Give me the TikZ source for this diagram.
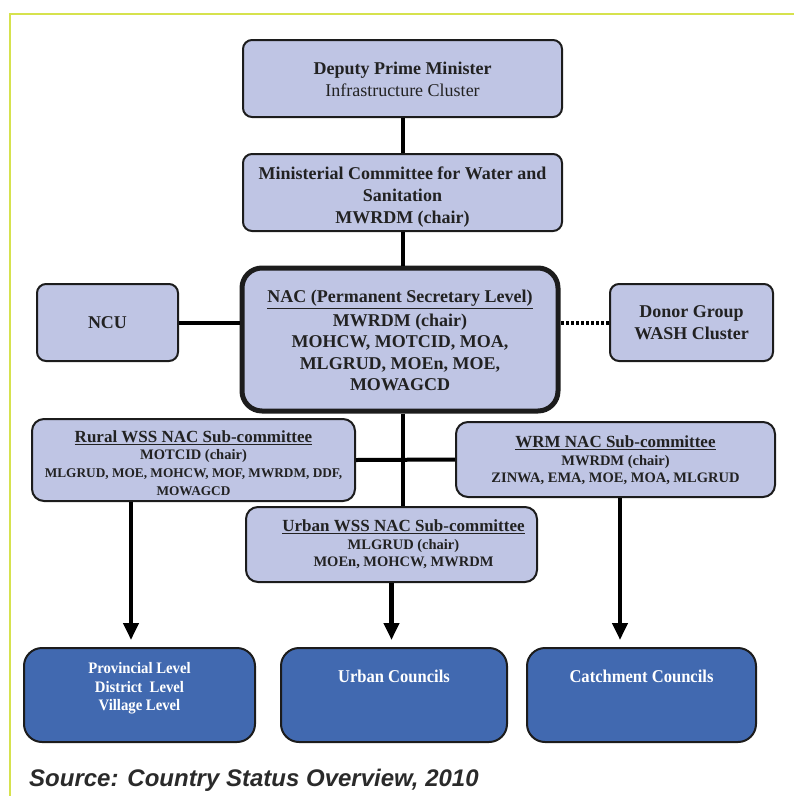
\documentclass[tikz,border=0pt]{standalone}
\usepackage{fontspec}
\setmainfont{Liberation Serif}
\newfontfamily\condfont[FakeStretch=0.92]{Liberation Serif}
\newfontfamily\srcfont{Liberation Sans}
\usetikzlibrary{arrows.meta,calc}
\definecolor{boxfill}{HTML}{BFC5E4}
\definecolor{darkfill}{HTML}{4169B0}
\definecolor{framec}{HTML}{D6E24E}
\definecolor{txt}{HTML}{222222}
\definecolor{edge}{HTML}{1C1C1C}
\definecolor{srcc}{HTML}{2A2A2A}
\begin{document}
\begin{tikzpicture}[x=1pt,y=-1pt,
  lbox/.style={draw=edge, line width=2pt, fill=boxfill, rounded corners=9pt,
    align=center, text=txt, inner sep=0pt,
    font=\bfseries\fontsize{18}{22}\selectfont},
  nacbox/.style={lbox, line width=5pt, rounded corners=20pt,
    font=\bfseries\fontsize{18}{21.5}\selectfont},
  subbox/.style={lbox, rounded corners=12pt,
    font=\bfseries\fontsize{14.5}{17.5}\selectfont},
  subtext/.style={align=center, text=txt, inner sep=0pt,
    font=\bfseries\fontsize{14.5}{17.5}\selectfont},
  dbox/.style={draw=edge, line width=2pt, fill=darkfill, rounded corners=18pt, inner sep=0pt},
  dtext/.style={align=center, text=white, inner sep=0pt},
  conn/.style={draw=black, line width=4pt},
  dotconn/.style={draw=black, line width=4pt, dash pattern=on 3pt off 2pt},
  arr/.style={draw=black, line width=4.5pt, -{Triangle[length=17pt,width=15pt]}}
]
\useasboundingbox (0,0) rectangle (794,796);
\draw[framec, line width=2pt] (794,14) -- (10,14) -- (10,796);

% top chain
\node[lbox, minimum width=319, minimum height=77] (dpm) at (402.5,78.5)
  {\rule{0pt}{14.6pt}Deputy Prime Minister\\{\mdseries Infrastructure Cluster}};
\node[lbox, minimum width=319, minimum height=77] (mc) at (402.5,192.5)
  {\rule{0pt}{21pt}Ministerial Committee for Water and\\Sanitation\\MWRDM (chair)};
\node[nacbox, minimum width=316, minimum height=143] (nac) at (400,339.5)
  {\rule{0pt}{15pt}\underline{NAC (Permanent Secretary Level)}\\[2pt]MWRDM (chair)\\MOHCW, MOTCID, MOA,\\MLGRUD, MOEn, MOE,\\MOWAGCD};
\node[lbox, minimum width=141, minimum height=77] (ncu) at (107.5,322.5) {NCU};
\node[lbox, minimum width=163, minimum height=77] (donor) at (691.5,322.5)
  {Donor Group\\WASH Cluster};

% sub-committees
\node[subbox, minimum width=323, minimum height=82] (rural) at (193.5,460)
  {\rule{0pt}{18pt}{\fontsize{17}{17.5}\selectfont\underline{Rural WSS NAC Sub-committee}}\\MOTCID (chair)\\{\fontsize{13.3}{17.5}\selectfont MLGRUD, MOE, MOHCW, MOF, MWRDM, DDF,}\\[0.5pt]{\fontsize{13.3}{17.5}\selectfont MOWAGCD}};
\node[subbox, minimum width=319, minimum height=75] (wrm) at (615.5,459.5)
  {\rule{0pt}{14pt}{\fontsize{17}{17.5}\selectfont\underline{WRM NAC Sub-committee}}\\MWRDM (chair)\\ZINWA, EMA, MOE, MOA, MLGRUD};
\node[subbox, minimum width=291, minimum height=75] (urban) at (391.5,544.5) {};
\node[subtext] (urbant) at ($(urban.center)+(12,0)$)
  {{\fontsize{17}{17.5}\selectfont\underline{Urban WSS NAC Sub-committee}}\\MLGRUD (chair)\\MOEn, MOHCW, MWRDM};

% bottom boxes
\node[dbox, minimum width=231, minimum height=94] (prov) at (139.5,695) {};
\node[dbox, minimum width=226, minimum height=94] (ucouncil) at (394,695) {};
\node[dbox, minimum width=229, minimum height=94] (catch) at (641.5,695) {};
\node[dtext, font=\condfont\bfseries\fontsize{16}{18.7}\selectfont] (provt) at ($(prov.north)+(0,41.5)$)
  {Provincial Level\\District~ Level\\Village Level};
\node[dtext, font=\condfont\bfseries\fontsize{18}{20}\selectfont] (ucouncilt) at ($(ucouncil.north)+(0,29)$)
  {Urban Councils};
\node[dtext, font=\condfont\bfseries\fontsize{18}{20}\selectfont] (catcht) at ($(catch.north)+(0,29)$)
  {Catchment Councils};

% connectors
\draw[conn] (dpm.south) -- (mc.north);
\draw[conn] (mc.south) -- (mc.south |- nac.north);
\draw[conn] (ncu.east) -- (ncu.east -| nac.west);
\draw[dotconn] (donor.west) -- (donor.west -| nac.east);
\draw[conn] (nac.south -| mc.south) -- (urban.north -| mc.south);
\draw[conn] (rural.east) -- (wrm.west);

\coordinate (ra) at (131,0);
\coordinate (wa) at (620,0);
\draw[arr] (rural.south -| ra) -- ($(prov.north -| ra)+(0,-7)$);
\draw[arr] (urban.south) -- ($(ucouncil.north -| urban.south)+(0,-7)$);
\draw[arr] (wrm.south -| wa) -- ($(catch.north -| wa)+(0,-7)$);

% source
\node[anchor=base west, inner sep=0pt, text=srcc,
  font=\srcfont\bfseries\itshape\fontsize{24}{28}\selectfont] (src) at (29,786)
  {Source: Country Status Overview, 2010};
\end{tikzpicture}
\end{document}
